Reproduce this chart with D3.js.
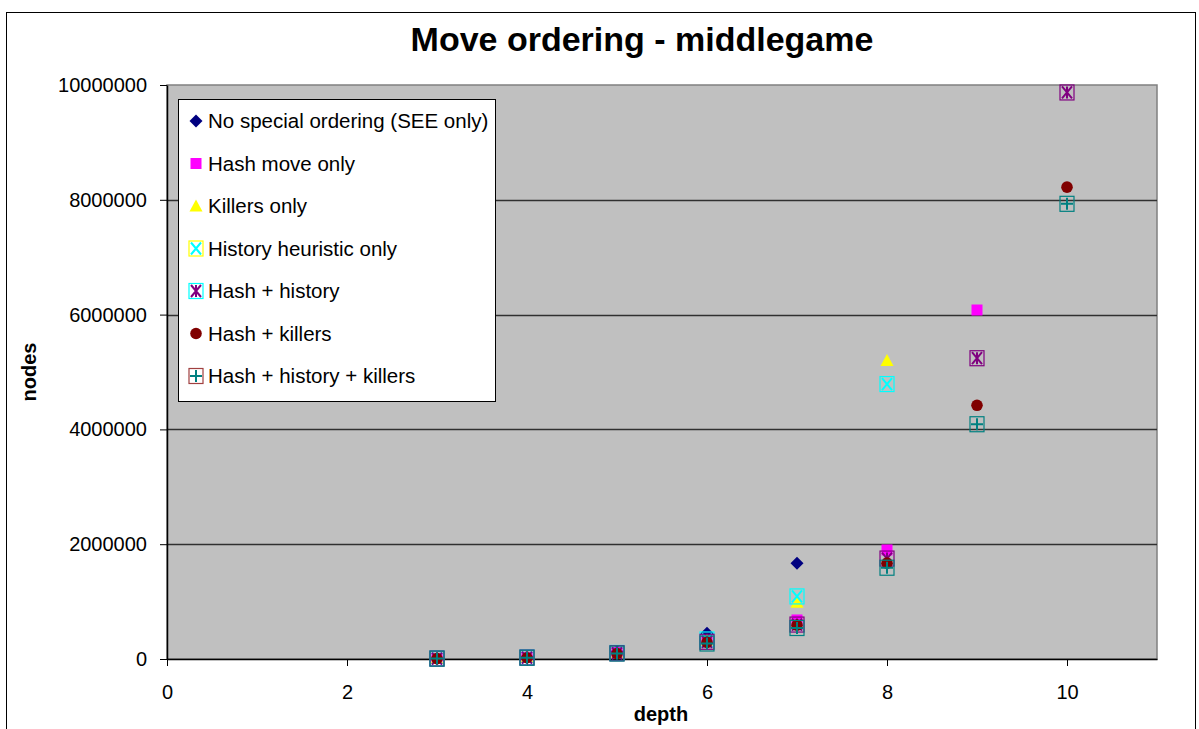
<!DOCTYPE html>
<html>
<head>
<meta charset="utf-8">
<script src="https://cdn.jsdelivr.net/npm/d3@7"></script>
<style>
  html, body { margin: 0; padding: 0; background: #fff; }
  svg { display: block; font-family: "Liberation Sans", Arial, sans-serif; }
</style>
</head>
<body>
<svg id="chart" width="1199" height="729"></svg>
<script>
// Search depth for each measurement
const depths = [3, 4, 5, 6, 7, 8, 9, 10];

// Node counts per ordering scheme (null = not measured)
const seeOnly         = [10000, 35000, 130000, 450000, 1670000, null, null, null];
const hashOnly        = [8000, 25000, 110000, 320000, 680000, 1900000, 6080000, null];
const killersOnly     = [9000, 30000, 100000, 330000, 990000, 5200000, null, null];
const historyOnly     = [9000, 28000, 105000, 340000, 1090000, 4790000, null, null];
const hashHistory     = [8000, 25000, 100000, 300000, 600000, 1750000, 5240000, 9870000];
const hashKillers     = [7000, 22000, 95000, 290000, 590000, 1670000, 4420000, 8220000];
const hashHistKillers = [7000, 22000, 95000, 270000, 540000, 1590000, 4090000, 7930000];

const seriesNames = [
  "No special ordering (SEE only)",
  "Hash move only",
  "Killers only",
  "History heuristic only",
  "Hash + history",
  "Hash + killers",
  "Hash + history + killers"
];
const seriesValues = [seeOnly, hashOnly, killersOnly, historyOnly, hashHistory, hashKillers, hashHistKillers];

const xTicks = [0, 2, 4, 6, 8, 10];
const yTicks = [0, 2000000, 4000000, 6000000, 8000000, 10000000];

// marker shape + colours per series
const markerStyle = [
  { shape: "diamond",  color: "#000080" },
  { shape: "square",   color: "#FF00FF" },
  { shape: "triangle", color: "#FFFF00" },
  { shape: "xbox",     color: "#00FFFF", legendBox: "#FFFF00" },
  { shape: "starbox",  color: "#800080", legendBox: "#00FFFF" },
  { shape: "circle",   color: "#800000" },
  { shape: "plusbox",  color: "#008080", legendBox: "#A04040" }
];

const svg = d3.select("#chart");

// outer chart frame
svg.append("rect").attr("x", 6.5).attr("y", 12.5).attr("width", 1189).attr("height", 740)
  .attr("fill", "#fff").attr("stroke", "#000").attr("stroke-width", 1);

const x = d3.scaleLinear().domain([0, 11]).range([167, 1157]);
const y = d3.scaleLinear().domain([0, 10000000]).range([659, 85]);

// plot area
svg.append("rect")
  .attr("x", x(0)).attr("y", y(10000000))
  .attr("width", x(11) - x(0)).attr("height", y(0) - y(10000000))
  .attr("fill", "#C0C0C0").attr("stroke", "#808080").attr("stroke-width", 1.5);

// horizontal gridlines
svg.append("g").selectAll("line").data(yTicks.filter(d => d > 0 && d < 10000000)).join("line")
  .attr("x1", x(0)).attr("x2", x(11))
  .attr("y1", d => Math.round(y(d)) + 0.5).attr("y2", d => Math.round(y(d)) + 0.5)
  .attr("stroke", "#303030").attr("stroke-width", 1.3);

// axes
const yAxis = d3.axisLeft(y).tickValues(yTicks).tickFormat(d => String(d)).tickSize(7).tickPadding(13).tickSizeOuter(0);
const xAxis = d3.axisBottom(x).tickValues(xTicks).tickFormat(d => String(d)).tickSize(7).tickPadding(19).tickSizeOuter(0);

const gy = svg.append("g").attr("transform", `translate(${x(0)},0)`).call(yAxis);
const gx = svg.append("g").attr("transform", `translate(0,${y(0)})`).call(xAxis);
[gx, gy].forEach(g => {
  g.select(".domain").attr("stroke", "#000").attr("stroke-width", 1.5);
  g.selectAll(".tick line").attr("stroke", "#000");
  g.selectAll(".tick text").attr("fill", "#000").attr("font-size", 20)
    .attr("font-family", "'Liberation Sans', Arial, sans-serif");
});

// titles
svg.append("text").attr("x", 642).attr("y", 51).attr("text-anchor", "middle")
  .attr("font-size", 34).attr("font-weight", "bold").text("Move ordering - middlegame");
svg.append("text").attr("x", 661).attr("y", 721).attr("text-anchor", "middle")
  .attr("font-size", 20).attr("font-weight", "bold").text("depth");
svg.append("text").attr("transform", "translate(36,372) rotate(-90)").attr("text-anchor", "middle")
  .attr("font-size", 20).attr("font-weight", "bold").text("nodes");

// marker drawing
function drawMarker(g, cx, cy, st, boxColor) {
  const c = st.color;
  switch (st.shape) {
    case "diamond":
      g.append("path").attr("d", `M${cx},${cy - 6.5}L${cx + 6.5},${cy}L${cx},${cy + 6.5}L${cx - 6.5},${cy}Z`).attr("fill", c);
      break;
    case "square":
      g.append("rect").attr("x", cx - 5.5).attr("y", cy - 5.5).attr("width", 11).attr("height", 11).attr("fill", c);
      break;
    case "triangle":
      g.append("path").attr("d", `M${cx},${cy - 6.5}L${cx + 6.5},${cy + 5.5}L${cx - 6.5},${cy + 5.5}Z`).attr("fill", c);
      break;
    case "circle":
      g.append("circle").attr("cx", cx).attr("cy", cy).attr("r", 5.8).attr("fill", c);
      break;
    default: {
      const bc = boxColor || c;
      g.append("rect").attr("x", cx - 7).attr("y", cy - 7.5).attr("width", 14).attr("height", 15)
        .attr("fill", "none").attr("stroke", bc).attr("stroke-width", 1.2);
      let d = "";
      if (st.shape === "xbox") d = `M${cx - 5},${cy - 6}L${cx + 5},${cy + 6}M${cx + 5},${cy - 6}L${cx - 5},${cy + 6}`;
      if (st.shape === "starbox") d = `M${cx - 5},${cy - 6}L${cx + 5},${cy + 6}M${cx + 5},${cy - 6}L${cx - 5},${cy + 6}M${cx},${cy - 6}L${cx},${cy + 6}`;
      if (st.shape === "plusbox") d = `M${cx - 6},${cy}L${cx + 6},${cy}M${cx},${cy - 6}L${cx},${cy + 6}`;
      g.append("path").attr("d", d).attr("stroke", c).attr("stroke-width", 2).attr("fill", "none");
    }
  }
}

// data points
const pts = svg.append("g");
seriesValues.forEach((vals, i) => {
  const g = pts.append("g");
  vals.forEach((v, j) => {
    if (v === null) return;
    drawMarker(g, x(depths[j]), y(v), markerStyle[i]);
  });
});

// legend
const lg = svg.append("g");
lg.append("rect").attr("x", 178.5).attr("y", 99.5).attr("width", 317).attr("height", 302)
  .attr("fill", "#fff").attr("stroke", "#000").attr("stroke-width", 1);
seriesNames.forEach((name, i) => {
  const cy = 121 + i * 42.5;
  drawMarker(lg, 196, cy, markerStyle[i], markerStyle[i].legendBox);
  lg.append("text").attr("x", 208).attr("y", cy + 7).attr("font-size", 20.5).attr("fill", "#000").text(name);
});
</script>
</body>
</html>
